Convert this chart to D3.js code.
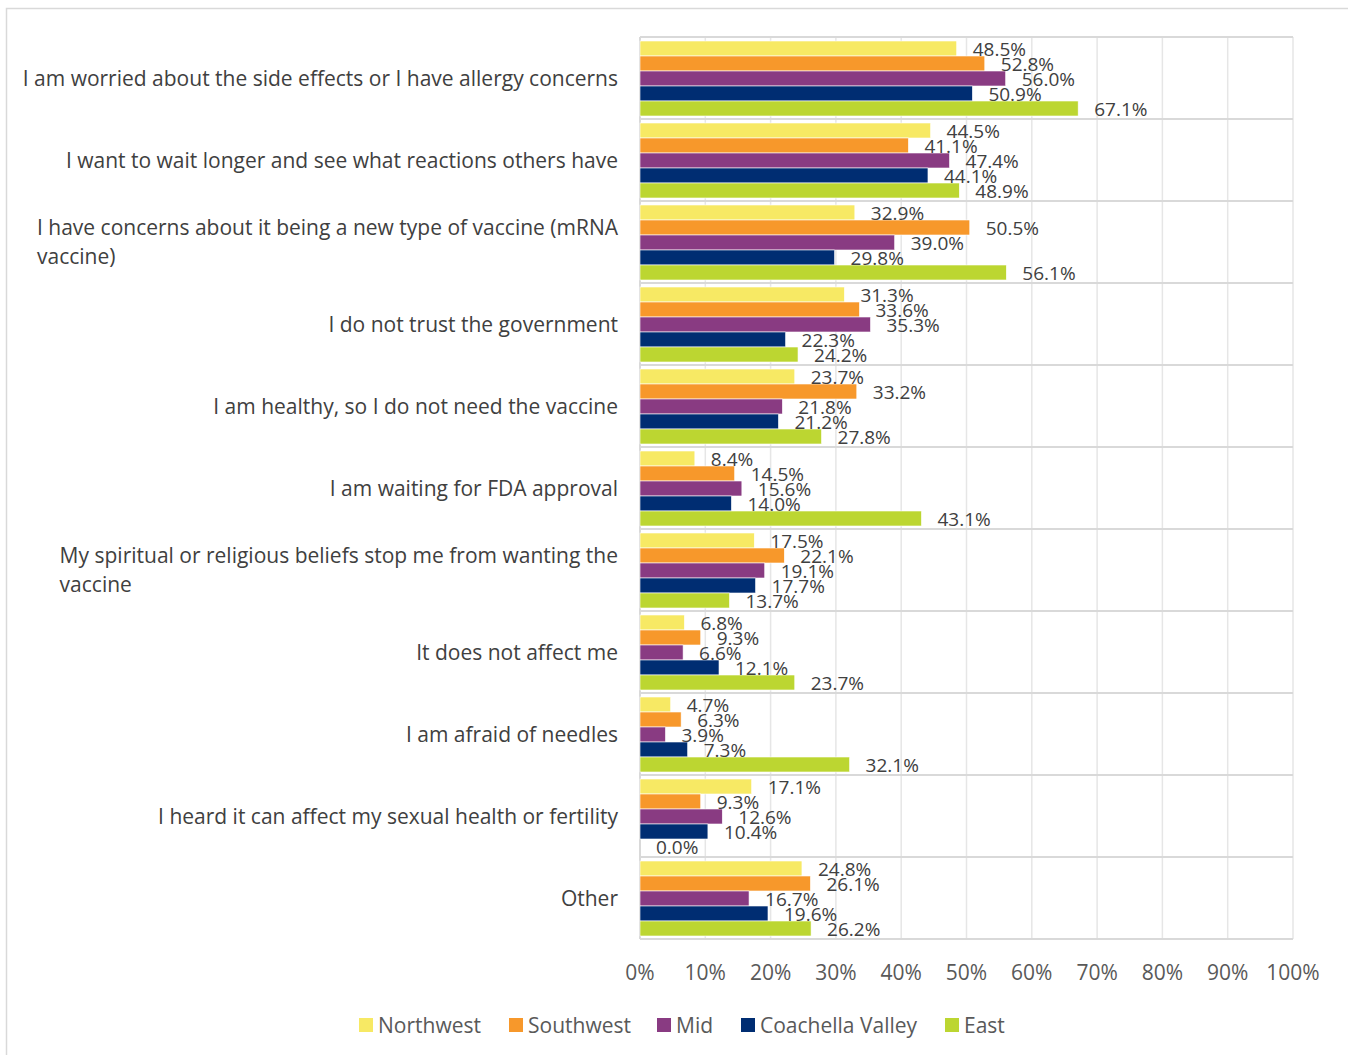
<!DOCTYPE html>
<html><head><meta charset="utf-8">
<script src="https://cdn.jsdelivr.net/npm/d3@7"></script>
<style>
html,body{margin:0;padding:0;background:#fff;}
svg{display:block;font-family:"Open Sans",sans-serif;}
</style></head>
<body>
<svg id="chart" width="1348" height="1055"></svg>
<script>
const categories = [
  "I am worried about the side effects or I have allergy concerns",
  "I want to wait longer and see what reactions others have",
  "I have concerns about it being a new type of vaccine (mRNA\nvaccine)",
  "I do not trust the government",
  "I am healthy, so I do not need the vaccine",
  "I am waiting for FDA approval",
  "My spiritual or religious beliefs stop me from wanting the\nvaccine",
  "It does not affect me",
  "I am afraid of needles",
  "I heard it can affect my sexual health or fertility",
  "Other"
];
const seriesNames = ["Northwest","Southwest","Mid","Coachella Valley","East"];
const northwest = [48.5,44.5,32.9,31.3,23.7,8.4,17.5,6.8,4.7,17.1,24.8];
const southwest = [52.8,41.1,50.5,33.6,33.2,14.5,22.1,9.3,6.3,9.3,26.1];
const mid       = [56.0,47.4,39.0,35.3,21.8,15.6,19.1,6.6,3.9,12.6,16.7];
const coachella = [50.9,44.1,29.8,22.3,21.2,14.0,17.7,12.1,7.3,10.4,19.6];
const east      = [67.1,48.9,56.1,24.2,27.8,43.1,13.7,23.7,32.1,0.0,26.2];
const xTicks = [0,10,20,30,40,50,60,70,80,90,100];
const colors = ["#F7E964","#F7982B","#893B82","#002D72","#BCD631"];

(function(){
const values = [northwest, southwest, mid, coachella, east];
const svg = d3.select("#chart");

// outer chart border
svg.append("rect").attr("x",6.5).attr("y",8.5).attr("width",1400).attr("height",1100)
  .attr("fill","none").attr("stroke","#d9d9d9").attr("stroke-width",1.5);

const pLeft = 640, pRight = 1293, pTop = 37, pBottom = 939;
const x = d3.scaleLinear().domain([0,100]).range([pLeft,pRight]);
const y = d3.scaleBand().domain(categories).range([pTop,pBottom]).paddingInner(0).paddingOuter(0);
const yi = d3.scaleBand().domain(seriesNames).range([4, y.bandwidth()-3]);

// vertical gridlines
svg.append("g").selectAll("line").data(xTicks).join("line")
  .attr("x1",d=>x(d)).attr("x2",d=>x(d)).attr("y1",pTop).attr("y2",pBottom)
  .attr("stroke","#e6e6e6").attr("stroke-width",1.5);
// horizontal separators
const bounds = categories.map(c=>y(c)).concat([pBottom]);
svg.append("g").selectAll("line").data(bounds).join("line")
  .attr("x1",pLeft).attr("x2",pRight).attr("y1",d=>d).attr("y2",d=>d)
  .attr("stroke","#d9d9d9").attr("stroke-width",2);
// left axis line
svg.append("line").attr("x1",pLeft).attr("x2",pLeft).attr("y1",pTop).attr("y2",pBottom)
  .attr("stroke","#d9d9d9").attr("stroke-width",2);

// bars
const gBars = svg.append("g");
seriesNames.forEach((s,si)=>{
  const g = gBars.append("g");
  g.selectAll("rect").data(categories).join("rect")
    .attr("x",pLeft).attr("y",(c)=>y(c)+yi(s))
    .attr("width",(c,i)=>x(values[si][i])-pLeft)
    .attr("height",yi.bandwidth())
    .attr("fill",colors[si]).attr("stroke","#ffffff").attr("stroke-width",0.6);
});
// data labels
const gLab = svg.append("g");
seriesNames.forEach((s,si)=>{
  gLab.append("g").selectAll("text").data(categories).join("text")
    .attr("x",(c,i)=>x(values[si][i])+16)
    .attr("y",(c)=>y(c)+yi(s)+yi.bandwidth()-0.5)
    .attr("font-size",19).attr("fill","#404040")
    .text((c,i)=>values[si][i].toFixed(1)+"%");
});

// category labels
const gCat = svg.append("g");
categories.forEach(c=>{
  const lines = c.split("\n");
  const cy = y(c)+y.bandwidth()/2;
  const lh = 29;
  const t = gCat.append("text").attr("font-size",21).attr("fill","#404040");
  lines.forEach((ln,li)=>{
    t.append("tspan").attr("y", cy + (li-(lines.length-1)/2)*lh + 7.5).text(ln);
  });
  let maxW = 0;
  t.selectAll("tspan").each(function(){ maxW = Math.max(maxW, this.getComputedTextLength()); });
  t.selectAll("tspan").attr("x", 618 - maxW);
});

// x axis tick labels
svg.append("g").selectAll("text").data(xTicks).join("text")
  .attr("x",d=>x(d)).attr("y",979.5).attr("text-anchor","middle")
  .attr("font-size",21).attr("fill","#595959").text(d=>d+"%");

// legend
const legendX = [359,509,657,741,945];
const lg = svg.append("g");
seriesNames.forEach((s,i)=>{
  lg.append("rect").attr("x",legendX[i]).attr("y",1018).attr("width",14).attr("height",14).attr("fill",colors[i]);
  lg.append("text").attr("x",legendX[i]+19).attr("y",1032.5).attr("font-size",21).attr("fill","#595959").text(s);
});
})();
</script>
</body></html>
